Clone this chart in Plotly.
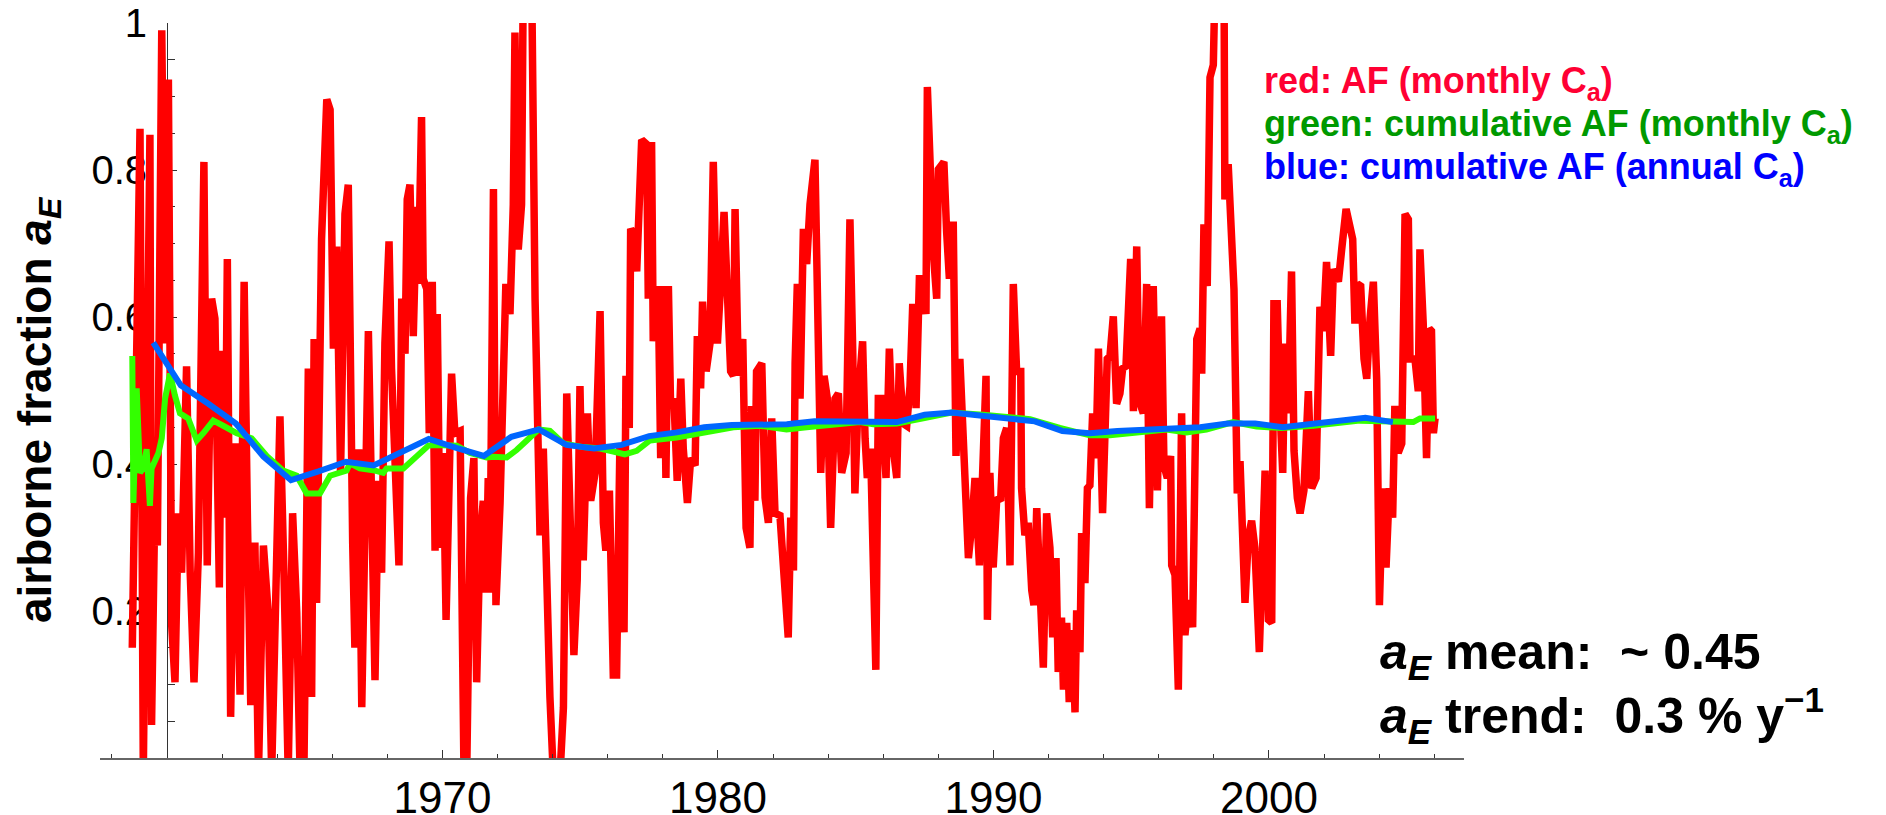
import plotly.graph_objects as go

# ---------------- data ----------------
red_year = [
    1958.74, 1958.81, 1959.02, 1959.14, 1959.26, 1959.38, 1959.44, 1959.56, 1959.65, 1959.81,
    1959.93, 1960.05, 1960.17, 1960.29, 1960.41, 1960.53, 1960.71, 1960.84, 1960.98, 1961.14,
    1961.34, 1961.46, 1961.62, 1961.74, 1961.90, 1961.98, 1962.11, 1962.19, 1962.31, 1962.47,
    1962.65, 1962.80, 1962.92, 1963.04, 1963.19, 1963.32, 1963.50, 1963.68, 1963.80, 1963.96,
    1964.10, 1964.25, 1964.40, 1964.56, 1964.71, 1964.83, 1964.97, 1965.13, 1965.25, 1965.34,
    1965.43, 1965.61, 1965.80, 1965.92, 1966.04, 1966.16, 1966.30, 1966.46, 1966.58,
    1966.74, 1966.82, 1966.96, 1967.07, 1967.31, 1967.55, 1967.67, 1967.79, 1967.91, 1968.06,
    1968.15, 1968.28, 1968.42, 1968.52, 1968.64, 1968.72, 1968.82, 1968.94, 1969.06, 1969.12,
    1969.24, 1969.30, 1969.43, 1969.52, 1969.63, 1969.73, 1969.81, 1969.91, 1970.03, 1970.13,
    1970.24, 1970.33, 1970.45, 1970.64, 1970.78, 1970.88, 1971.02, 1971.14, 1971.24, 1971.36,
    1971.48, 1971.58, 1971.66, 1971.72, 1971.85, 1971.94, 1972.09, 1972.21, 1972.30, 1972.45,
    1972.57, 1972.63, 1972.75, 1972.87, 1972.93, 1973.24, 1973.36, 1973.54, 1973.66, 1973.90,
    1974.02, 1974.27, 1974.39, 1974.51, 1974.65, 1974.77, 1974.89, 1974.99, 1975.11, 1975.26,
    1975.38, 1975.54,
    1975.72, 1975.84, 1975.93, 1976.06, 1976.20, 1976.32, 1976.44, 1976.59, 1976.66, 1976.78,
    1976.83, 1976.93, 1977.05, 1977.15, 1977.23, 1977.41, 1977.47, 1977.59, 1977.65, 1977.83,
    1977.92, 1978.02, 1978.11, 1978.20, 1978.28, 1978.40, 1978.52, 1978.65, 1978.74, 1978.89,
    1979.01, 1979.17, 1979.25, 1979.37, 1979.44, 1979.57, 1979.71, 1979.83, 1979.98, 1980.10,
    1980.22, 1980.32, 1980.46, 1980.56, 1980.62, 1980.74, 1980.90, 1981.02, 1981.16, 1981.22,
    1981.34, 1981.40, 1981.59, 1981.71, 1981.83, 1981.95, 1982.07, 1982.25, 1982.43, 1982.55,
    1982.64, 1982.74, 1982.80, 1982.88, 1982.98, 1983.10, 1983.22, 1983.34, 1983.52, 1983.61,
    1983.73, 1983.85, 1983.97, 1984.09, 1984.25, 1984.37, 1984.49, 1984.65,
    1984.79, 1984.89, 1984.97, 1985.09, 1985.25, 1985.34, 1985.42, 1985.54, 1985.73, 1985.82,
    1985.94, 1986.10, 1986.22, 1986.36, 1986.49, 1986.58, 1986.73, 1986.85, 1986.97, 1987.07,
    1987.19, 1987.31, 1987.39, 1987.55, 1987.60, 1987.82, 1987.94, 1988.00, 1988.20, 1988.30,
    1988.40, 1988.54, 1988.64, 1988.78, 1988.91, 1989.09, 1989.21, 1989.33, 1989.49, 1989.61,
    1989.73, 1989.78, 1989.87, 1989.99, 1990.12, 1990.26, 1990.36, 1990.48, 1990.60, 1990.72,
    1990.84, 1990.99, 1991.02, 1991.14, 1991.26, 1991.39, 1991.47, 1991.57, 1991.69, 1991.81,
    1991.93, 1992.05, 1992.15, 1992.27, 1992.35, 1992.47, 1992.54, 1992.66, 1992.75, 1992.87,
    1992.96, 1993.02, 1993.14, 1993.20, 1993.32, 1993.41, 1993.50, 1993.60, 1993.72, 1993.81,
    1993.96, 1994.05, 1994.13, 1994.23, 1994.35, 1994.47, 1994.59, 1994.69, 1994.81, 1994.98,
    1995.08, 1995.20, 1995.29, 1995.44, 1995.56, 1995.66, 1995.80, 1995.95, 1996.10, 1996.19,
    1996.31, 1996.43, 1996.47, 1996.59, 1996.71, 1996.83, 1996.95, 1997.07, 1997.23, 1997.38,
    1997.50, 1997.56, 1997.64, 1997.76, 1997.86, 1997.98, 1998.04, 1998.37, 1998.40, 1998.52,
    1998.65, 1998.73, 1998.85, 1998.95, 1999.13, 1999.25, 1999.37, 1999.49, 1999.65, 1999.77,
    1999.86, 1999.98, 2000.10, 2000.18, 2000.30, 2000.40, 2000.50, 2000.58, 2000.70, 2000.82,
    2000.91, 2001.03, 2001.13, 2001.27, 2001.43, 2001.55, 2001.71, 2001.85, 2001.97, 2002.09,
    2002.24, 2002.34, 2002.52, 2002.64, 2002.80,
    2003.04, 2003.12, 2003.21, 2003.33, 2003.45, 2003.55, 2003.67, 2003.79, 2003.91, 2004.01,
    2004.13, 2004.25, 2004.37, 2004.49, 2004.57, 2004.69, 2004.82, 2004.94, 2005.06, 2005.12,
    2005.30, 2005.42, 2005.48, 2005.60, 2005.72, 2005.82, 2005.90, 2005.97, 2006.03,
]
red_af = [
    0.150, 0.320, 0.856, -0.02, 0.354, 0.848, 0.045, 0.354, 0.289, 0.990,
    0.564, 0.923, 0.181, 0.103, 0.333, 0.252, 0.533, 0.255, 0.103, 0.279,
    0.811, 0.262, 0.625, 0.598, 0.232, 0.554, 0.327, 0.679, 0.056, 0.428,
    0.086, 0.648, 0.323, 0.072, 0.293, -0.02, 0.289, 0.194, -0.02, 0.306,
    0.465, 0.245, -0.02, 0.333, 0.198, -0.02, -0.02, 0.530, 0.083, 0.570,
    0.211, 0.706, 0.896, 0.882, 0.557, 0.696, 0.388, 0.740, 0.780,
    0.293, 0.150, 0.420, 0.069, 0.581, 0.106, 0.377, 0.252, 0.564, 0.703,
    0.530, 0.360, 0.262, 0.625, 0.550, 0.760, 0.780, 0.574, 0.750, 0.645,
    0.872, 0.652, 0.638, 0.442, 0.648, 0.282, 0.604, 0.286, 0.415, 0.188,
    0.415, 0.523, 0.442, 0.445, -0.02, -0.02, 0.354, 0.408, 0.103, 0.293,
    0.350, 0.225, 0.381, 0.225, 0.774, 0.208, 0.347, 0.584, 0.645, 0.604,
    0.753, 0.987, 0.692, 0.753, 1.05, 1.05, 0.625, 0.303, 0.421, 0.083,
    -0.02, -0.02, 0.069, 0.496, 0.340, 0.140, 0.242, 0.506, 0.269, 0.469,
    0.350, 0.388,
    0.608, 0.320, 0.282, 0.364, 0.113, 0.113, 0.428, 0.171, 0.520, 0.449,
    0.720, 0.713, 0.662, 0.784, 0.841, 0.835, 0.625, 0.838, 0.567, 0.642,
    0.408, 0.642, 0.381, 0.642, 0.479, 0.489, 0.377, 0.516, 0.421, 0.347,
    0.408, 0.398, 0.574, 0.503, 0.621, 0.526, 0.564, 0.811, 0.564, 0.648,
    0.743, 0.652, 0.526, 0.520, 0.747, 0.520, 0.570, 0.313, 0.286, 0.479,
    0.350, 0.526, 0.537, 0.354, 0.320, 0.462, 0.333, 0.330, 0.232, 0.164,
    0.327, 0.255, 0.537, 0.645, 0.489, 0.720, 0.672, 0.753, 0.814, 0.611,
    0.388, 0.520, 0.489, 0.313, 0.489, 0.496, 0.388, 0.415,
    0.733, 0.557, 0.360, 0.489, 0.567, 0.435, 0.381, 0.421, 0.120, 0.489,
    0.489, 0.381, 0.557, 0.421, 0.381, 0.537, 0.455, 0.452, 0.506, 0.618,
    0.476, 0.652, 0.652, 0.604, 0.913, 0.686, 0.625, 0.801, 0.811, 0.716,
    0.652, 0.730, 0.411, 0.543, 0.421, 0.272, 0.316, 0.381, 0.262, 0.381,
    0.520, 0.188, 0.388, 0.259, 0.354, 0.350, 0.435, 0.449, 0.262, 0.645,
    0.526, 0.526, 0.367, 0.303, 0.320, 0.228, 0.208, 0.340, 0.232, 0.123,
    0.333, 0.286, 0.164, 0.272, 0.117, 0.191, 0.093, 0.184, 0.076, 0.174,
    0.062, 0.201, 0.144, 0.306, 0.238, 0.367, 0.371, 0.469, 0.408, 0.557,
    0.333, 0.449, 0.543, 0.547, 0.601, 0.482, 0.496, 0.530, 0.533, 0.679,
    0.472, 0.696, 0.486, 0.469, 0.645, 0.340, 0.642, 0.364, 0.601, 0.398,
    0.381, 0.411, 0.262, 0.249, 0.093, 0.469, 0.167, 0.215, 0.178, 0.570,
    0.584, 0.523, 0.726, 0.642, 0.926, 0.943, 1.05, 1.05, 0.760, 0.808,
    0.686, 0.638, 0.360, 0.404, 0.211, 0.299, 0.323, 0.286, 0.144, 0.255,
    0.391, 0.188, 0.184, 0.618, 0.618, 0.476, 0.388, 0.564, 0.469, 0.662,
    0.418, 0.354, 0.333, 0.364, 0.499, 0.367, 0.381, 0.614, 0.581, 0.675,
    0.547, 0.665, 0.648, 0.692, 0.747,
    0.706, 0.591, 0.645, 0.642, 0.543, 0.516, 0.598, 0.648, 0.516, 0.208,
    0.367, 0.259, 0.367, 0.327, 0.479, 0.415, 0.428, 0.740, 0.733, 0.543,
    0.543, 0.499, 0.692, 0.591, 0.408, 0.584, 0.581, 0.442, 0.462,
]

green_year = [
    1958.74, 1958.78, 1958.90, 1959.02, 1959.14, 1959.26, 1959.38, 1959.44, 1959.69, 1959.81,
    1959.93, 1960.11, 1960.29, 1960.47, 1960.77, 1961.08, 1961.32, 1961.68, 1962.04, 1962.53,
    1963.07, 1963.62, 1964.22, 1964.71, 1965.07, 1965.55, 1965.92, 1966.52, 1966.64, 1967.00,
    1967.55, 1967.85, 1967.97, 1968.58, 1969.49, 1969.79, 1970.52, 1971.00, 1971.60, 1971.85,
    1972.33, 1972.69, 1973.06, 1973.48, 1973.90, 1974.39, 1975.11, 1975.72, 1976.20, 1976.62,
    1977.05, 1977.53, 1978.50, 1979.47, 1980.56, 1981.52, 1982.49, 1983.22, 1984.18, 1985.15,
    1985.64, 1986.49, 1987.45, 1988.48, 1989.63, 1991.33, 1992.41, 1993.50, 1994.23, 1995.07,
    1996.28, 1997.01, 1997.73, 1998.70, 1999.55, 2000.46, 2001.61, 2003.30, 2003.66, 2004.57,
    2005.24, 2005.48, 2006.03,
]
green_af = [
    0.547, 0.347, 0.503, 0.388, 0.394, 0.420, 0.343, 0.394, 0.415, 0.435,
    0.489, 0.523, 0.493, 0.469, 0.462, 0.432, 0.442, 0.459, 0.452, 0.442,
    0.435, 0.411, 0.391, 0.384, 0.360, 0.360, 0.384, 0.391, 0.401, 0.394,
    0.391, 0.388, 0.394, 0.394, 0.425, 0.426, 0.425, 0.415, 0.409, 0.410,
    0.409, 0.419, 0.432, 0.447, 0.445, 0.428, 0.423, 0.421, 0.417, 0.413,
    0.418, 0.432, 0.436, 0.442, 0.450, 0.452, 0.447, 0.450, 0.453, 0.457,
    0.454, 0.455, 0.462, 0.470, 0.467, 0.461, 0.449, 0.439, 0.439, 0.443,
    0.447, 0.443, 0.447, 0.457, 0.451, 0.449, 0.452, 0.459, 0.459, 0.457,
    0.457, 0.462, 0.462,
]

blue_year = [
    1959.5, 1960.5, 1961.5, 1962.5, 1963.5, 1964.5, 1965.5, 1966.5, 1967.5, 1968.5,
    1969.5, 1970.5, 1971.5, 1972.5, 1973.5, 1974.5, 1975.5, 1976.5, 1977.5, 1978.5,
    1979.5, 1980.5, 1981.5, 1982.5, 1983.5, 1984.5, 1985.5, 1986.5, 1987.5, 1988.5,
    1989.5, 1990.5, 1991.5, 1992.5, 1993.5, 1994.5, 1995.5, 1996.5, 1997.5, 1998.5,
    1999.5, 2000.5, 2001.5, 2002.5, 2003.5, 2004.5,
]
blue_af = [
    0.565, 0.507, 0.482, 0.455, 0.410, 0.378, 0.390, 0.403, 0.398, 0.416,
    0.434, 0.422, 0.411, 0.437, 0.447, 0.426, 0.421, 0.426, 0.438, 0.443,
    0.450, 0.453, 0.454, 0.454, 0.458, 0.458, 0.458, 0.457, 0.467, 0.470,
    0.466, 0.462, 0.458, 0.445, 0.442, 0.445, 0.447, 0.447, 0.450, 0.455,
    0.455, 0.450, 0.455, 0.459, 0.463, 0.457,
]

x_tick_years = [1970, 1980, 1990, 2000]
y_tick_vals = [0.2, 0.4, 0.6, 0.8, 1.0]
y_tick_text = ["0.2", "0.4", "0.6", "0.8", "1"]

legend_lines = [
    ("red: AF (monthly C<sub>a</sub>)", "#ff0033"),
    ("green: cumulative AF (monthly C<sub>a</sub>)", "#009900"),
    ("blue: cumulative AF (annual C<sub>a</sub>)", "#0000ff"),
]
stat_lines = [
    "<i>a</i><sub><i>E</i></sub> mean:\u00a0\u00a0~ 0.45",
    "<i>a</i><sub><i>E</i></sub> trend:\u00a0\u00a00.3 % y<sup>\u22121</sup>",
]

# ---------------- layout geometry ----------------
W, H = 1886, 815
ML, MR, MT, MB = 100, 422, 23, 57
PW, PH = W - ML - MR, H - MT - MB


def px(xp):
    return (xp - ML) / PW


def py(yp):
    return (H - MB - yp) / PH


FONT = "Liberation Sans, Arial, sans-serif"

fig = go.Figure()
fig.add_trace(go.Scatter(x=red_year, y=red_af, mode="lines",
                         line=dict(color="#ff0000", width=7.5), hoverinfo="skip"))
fig.add_trace(go.Scatter(x=green_year, y=green_af, mode="lines",
                         line=dict(color="#33ff00", width=6), hoverinfo="skip"))
fig.add_trace(go.Scatter(x=blue_year, y=blue_af, mode="lines",
                         line=dict(color="#0066ff", width=6), hoverinfo="skip"))

annotations = []
for i, (txt, col) in enumerate(legend_lines):
    annotations.append(dict(
        text="<b>" + txt + "</b>", x=px(1262), y=py(83 + 43 * i),
        xref="paper", yref="paper", xanchor="left", yanchor="middle",
        showarrow=False, font=dict(family=FONT, size=36, color=col)))
for i, txt in enumerate(stat_lines):
    annotations.append(dict(
        text="<b>" + txt + "</b>", x=px(1378), y=py(655 + 60 * i),
        xref="paper", yref="paper", xanchor="left", yanchor="middle",
        showarrow=False, font=dict(family=FONT, size=50, color="black")))
annotations.append(dict(
    text="<b>airborne fraction <i>a</i><sub><i>E</i></sub></b>",
    x=px(38), y=py(410), xref="paper", yref="paper",
    xanchor="center", yanchor="middle", textangle=-90, showarrow=False,
    font=dict(family=FONT, size=46, color="black")))

fig.update_layout(
    width=W, height=H,
    margin=dict(l=ML, r=MR, t=MT, b=MB, pad=0, autoexpand=False),
    paper_bgcolor="white", plot_bgcolor="white",
    showlegend=False,
    annotations=annotations,
    xaxis=dict(
        range=[1957.568, 2007.08], showgrid=False, zeroline=False,
        automargin=False,
        showline=True, linecolor="#666666", linewidth=2,
        ticks="inside", ticklen=8, tickwidth=1, tickcolor="#333333",
        tickvals=x_tick_years, ticktext=[str(v) for v in x_tick_years],
        tickfont=dict(family=FONT, size=44, color="black"),
        ticklabelstandoff=0,
        minor=dict(tick0=1958, dtick=2, ticks="inside", ticklen=4,
                   tickwidth=1, tickcolor="#333333"),
    ),
    yaxis=dict(
        range=[0, 1], showgrid=False, zeroline=False,
        automargin=False,
        anchor="free", position=px(167),
        showline=True, linecolor="#333333", linewidth=1,
        ticks="inside", ticklen=9, tickwidth=1, tickcolor="#333333",
        tickvals=y_tick_vals, ticktext=y_tick_text,
        tickfont=dict(family=FONT, size=40, color="black"),
        ticklabelstandoff=12,
        minor=dict(dtick=0.05, ticks="inside", ticklen=7, tickwidth=1,
                   tickcolor="#333333"),
        layer="below traces",
    ),
)

fig.write_html("out.html")
